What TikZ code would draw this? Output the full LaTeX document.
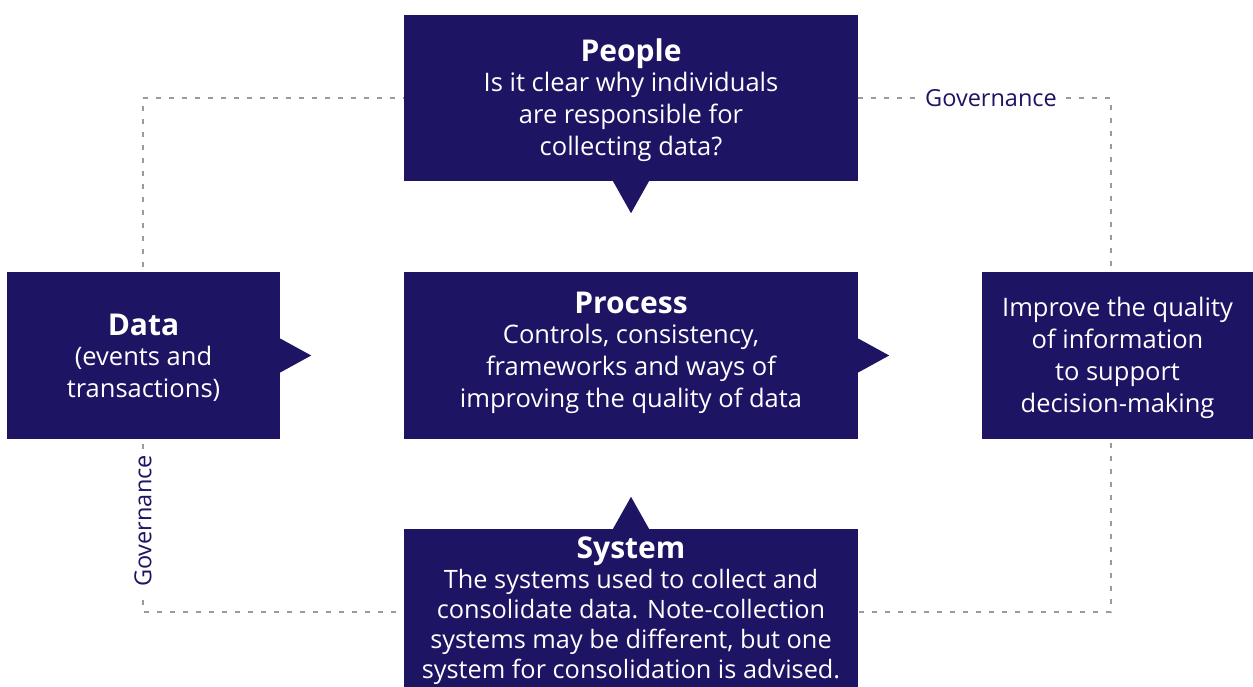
\documentclass[tikz,border=0pt]{standalone}
\usepackage{fontspec}
\setmainfont{Open Sans}
\definecolor{navy}{HTML}{1D1463}
\definecolor{dashgray}{HTML}{9B9B9B}
\begin{document}
\begin{tikzpicture}[x=1pt,y=-1pt,
  box/.style={fill=navy,inner sep=0pt},
  txt/.style={text=white,align=center,inner sep=0pt,font=\fontsize{25.5}{32}\selectfont},
  ptr/.style={fill=navy,draw=none},
  gov/.style={dashgray,line width=2.5pt,dash pattern=on 5pt off 8pt},
  govlabel/.style={fill=white,text=navy,inner sep=5pt,font=\fontsize{23.5}{24}\selectfont}]
\useasboundingbox (0,0) rectangle (1253,687);
% governance loop
\coordinate (tl) at (143,98);
\coordinate (tr) at (1111,98);
\coordinate (br) at (1111,612);
\coordinate (bl) at (143,612);
\draw[gov] (tl) -- (tr) -- (br) -- (bl) -- cycle;
\node[govlabel] (govtop) at (991,98) {Governance};
\node[govlabel,rotate=90] (govleft) at (143,521) {Governance};
% boxes
\node[box,minimum width=454pt,minimum height=166pt] (people) at (631,98) {};
\node[txt] (peopletext) at (631,100)
  {{\fontsize{30}{34}\selectfont\bfseries People}\\[-2pt]Is it clear why individuals\\are responsible for\\collecting data?};
\node[box,minimum width=273pt,minimum height=167pt] (data) at (143.5,355.5) {};
\node[txt] (datatext) at (143.5,357.5)
  {{\fontsize{30}{34}\selectfont\bfseries Data}\\[-2pt](events and\\transactions)};
\node[box,minimum width=454pt,minimum height=167pt] (process) at (631,355.5) {};
\node[txt] (processtext) at (631,353)
  {{\fontsize{30}{34}\selectfont\bfseries Process}\\[-2pt]Controls, consistency,\\frameworks and ways of\\improving the quality of data};
\node[box,minimum width=271pt,minimum height=167pt] (info) at (1117.5,355.5) {};
\node[txt] (infotext) at (1117.5,357.5)
  {Improve the quality\\of information\\to support\\decision-making};
\node[box,minimum width=454pt,minimum height=158pt] (system) at (631,608) {};
\node[txt,font=\fontsize{25.3}{30}\selectfont] (systemtext) at (631,611)
  {{\fontsize{30}{32}\selectfont\bfseries System}\\The systems used to collect and\\consolidate data. Note-collection\\systems may be different, but one\\system for consolidation is advised.};
% pointers
\fill[ptr] ([xshift=-18pt]people.south) -- ([xshift=18pt]people.south) -- ([yshift=-32pt]people.south) -- cycle;
\fill[ptr] ([yshift=17pt]data.east) -- ([yshift=-17pt]data.east) -- ([xshift=31pt]data.east) -- cycle;
\fill[ptr] ([yshift=17pt]process.east) -- ([yshift=-17pt]process.east) -- ([xshift=31pt]process.east) -- cycle;
\fill[ptr] ([xshift=-18pt]system.north) -- ([xshift=18pt]system.north) -- ([yshift=32pt]system.north) -- cycle;
\end{tikzpicture}
\end{document}
